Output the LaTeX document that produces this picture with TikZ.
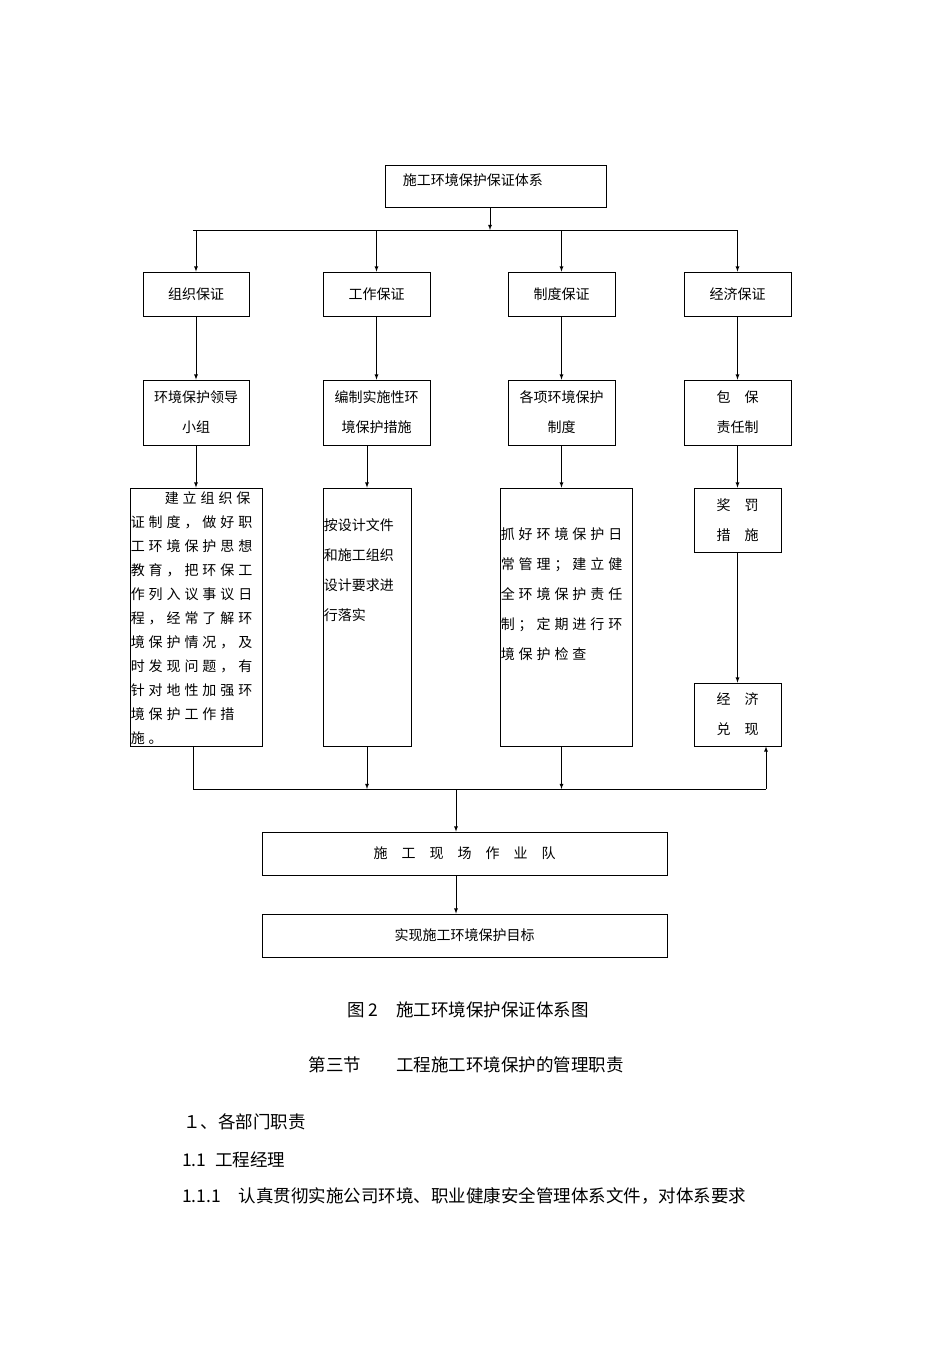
\documentclass[tikz,border=0pt]{standalone}
\usepackage{fontspec}
\setmainfont{Noto Sans CJK SC}
\newfontfamily\widecjk[LetterSpace=28]{Noto Sans CJK SC}
\usetikzlibrary{arrows}
\begin{document}
\begin{tikzpicture}
        [x=1pt, y=-1pt,
        box/.style={draw=black, thick, inner sep=0pt},
        txt/.style={font=\fontsize{14}{30}\selectfont, inner sep=0pt, align=left},
        captext/.style={font=\fontsize{17.5}{20}\selectfont, inner sep=0pt},
        arr/.style={->,>=latex,thick},
        ln/.style={thick}]
        \useasboundingbox (0,0) rectangle (950,1345);
        % top
        \node (T) [box, minimum width=221pt, minimum height=42pt] at (495.5,186) {};
        \node [txt, anchor=west] at (T.west) [xshift=18pt, yshift=6pt] {施工环境保护保证体系};
        \coordinate (Tj) at (490,230);
        \coordinate (Tl) at (193,230);
        \coordinate (Tr) at (738,230);
        \draw[arr] (T.south -| Tj) -- (Tj);
        \draw[ln] (Tl) -- (Tr);
        % row 1
        \node (A1) [box, minimum width=106pt, minimum height=44pt, txt] at (196,294) {组织保证};
        \node (B1) [box, minimum width=107pt, minimum height=44pt, txt] at (376.5,294) {工作保证};
        \node (C1) [box, minimum width=107pt, minimum height=44pt, txt] at (561.5,294) {制度保证};
        \node (D1) [box, minimum width=107pt, minimum height=44pt, txt] at (737.5,294) {经济保证};
        \foreach \n in {A1,B1,C1,D1}
          \draw[arr] (\n.north |- Tl) -- (\n.north);
        % row 2
        \node (A2) [box, minimum width=106pt, minimum height=65pt, txt, align=center] at (196,412.5) {环境保护领导\\小组};
        \node (B2) [box, minimum width=107pt, minimum height=65pt, txt, align=center] at (376.5,412.5) {编制实施性环\\境保护措施};
        \node (C2) [box, minimum width=107pt, minimum height=65pt, txt, align=center] at (561.5,412.5) {各项环境保护\\制度};
        \node (D2) [box, minimum width=107pt, minimum height=65pt, txt, align=center] at (737.5,412.5) {包\quad 保\\责任制};
        \draw[arr] (A1) -- (A2);
        \draw[arr] (B1) -- (B2);
        \draw[arr] (C1) -- (C2);
        \draw[arr] (D1) -- (D2);
        % row 3
        \node (A3) [box, minimum width=132pt, minimum height=258pt] at (196,617) {};
        \node (B3) [box, minimum width=88pt, minimum height=258pt] at (367,617) {};
        \node (C3) [box, minimum width=132pt, minimum height=258pt] at (566,617) {};
        \node (D3) [box, minimum width=87pt, minimum height=64pt, txt, align=center] at (737.5,520) {奖\quad 罚\\措\quad 施};
        \node (D4) [box, minimum width=87pt, minimum height=63pt, txt, align=center] at (737.5,714.5) {经\quad 济\\兑\quad 现};
        \node [txt, anchor=north west, font=\fontsize{14}{24}\selectfont\widecjk] at (A3.north west) [xshift=1pt, yshift=-4pt]
          {\hspace*{34pt}建立组织保\\证制度，做好职\\工环境保护思想\\教育，把环保工\\作列入议事议日\\程，经常了解环\\境保护情况，及\\时发现问题，有\\针对地性加强环\\境保护工作措\\施。};
        \node [txt, anchor=north west] at (B3.north west) [xshift=1pt, yshift=-31pt]
          {按设计文件\\和施工组织\\设计要求进\\行落实};
        \node [txt, anchor=north west, font=\fontsize{14}{30}\selectfont\widecjk] at (C3.north west) [xshift=1pt, yshift=-40pt]
          {抓好环境保护日\\常管理；建立健\\全环境保护责任\\制；定期进行环\\境保护检查};
        \draw[arr] (A2.south) -- (A3.north -| A2.south);
        \draw[arr] (B2.south -| B3.north) -- (B3.north);
        \draw[arr] (C2.south) -- (C3.north -| C2.south);
        \draw[arr] (D2) -- (D3);
        \draw[arr] (D3) -- (D4);
        % join
        \coordinate (Jl) at (193,789);
        \coordinate (Jm) at (456,789);
        \coordinate (Jr) at (766,789);
        \draw[ln] (A3.south -| Jl) -- (Jl) -- (Jr);
        \draw[arr] (B3.south) -- (B3.south |- Jl);
        \draw[arr] (C3.south -| C2.south) -- (C2.south |- Jl);
        \draw[arr] (Jr) -- (D4.south -| Jr);
        % bottom
        \node (E) [box, minimum width=405pt, minimum height=43pt, txt] at (464.5,853.5) {施\quad 工\quad 现\quad 场\quad 作\quad 业\quad 队};
        \node (F) [box, minimum width=405pt, minimum height=43pt, txt] at (464.5,935.5) {实现施工环境保护目标};
        \draw[arr] (Jm) -- (E.north -| Jm);
        \draw[arr] (E.south -| Jm) -- (F.north -| Jm);
        % text below
        \node (c1) [captext] at (468,1010) {图 2\quad 施工环境保护保证体系图};
        \node (c2) [captext] at (466,1065) {第三节\qquad 工程施工环境保护的管理职责};
        \node (c3) [captext, anchor=west] at (183,1122) {１、各部门职责};
        \node (c4) [captext, anchor=west] at (182,1160) {1.1\enspace 工程经理};
        \node (c5) [captext, anchor=west] at (182,1196) {1.1.1\quad 认真贯彻实施公司环境、职业健康安全管理体系文件，对体系要求};
\end{tikzpicture}
\end{document}
